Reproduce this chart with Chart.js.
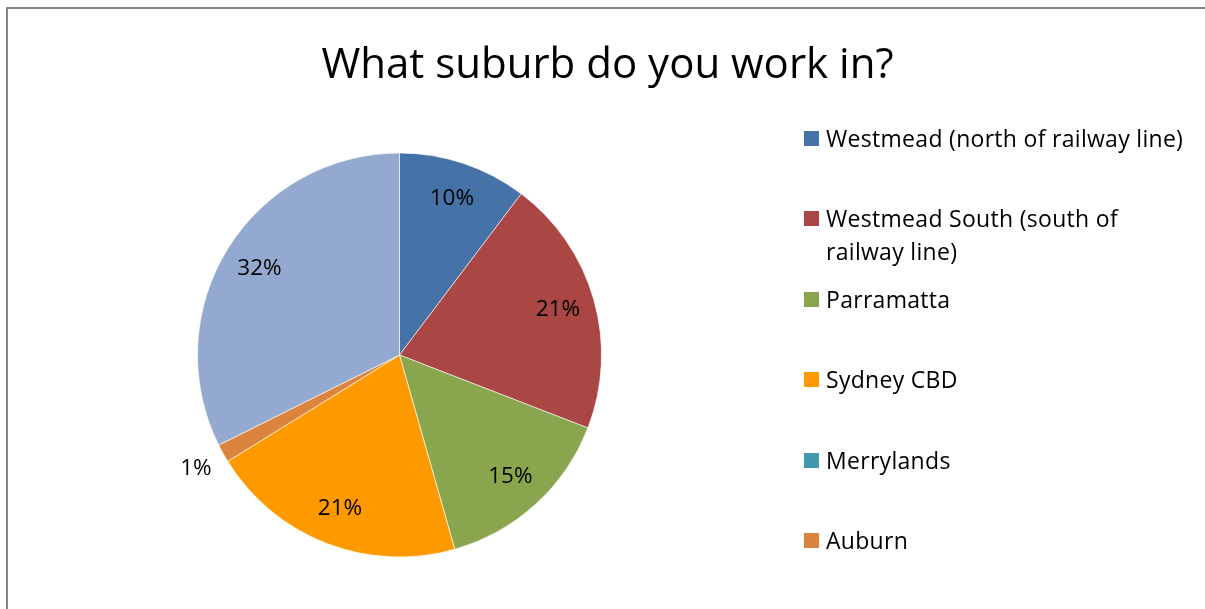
<!DOCTYPE html>
<html>
<head>
<meta charset="utf-8">
<script src="https://cdn.jsdelivr.net/npm/chart.js@4.4.1/dist/chart.umd.min.js"></script>
<style>
  html, body { margin: 0; padding: 0; background: #fff; }
  body { width: 1205px; height: 609px; position: relative; overflow: hidden; font-family: "Open Sans", Lato, sans-serif; }
  #frame { position: absolute; left: 6px; top: 7px; width: 1300px; height: 700px; border-left: 2px solid #868686; border-top: 2px solid #868686; }
  #wrap { position: absolute; left: 0; top: 0; width: 1205px; height: 609px; }
  #title { position: absolute; left: 0; width: 1215px; top: 36px; text-align: center; font-size: 42px; line-height: 52px; color: #000; white-space: nowrap; }
  #legend { position: absolute; left: 804px; top: 121.5px; }
  .item { position: relative; height: 80.5px; }
  .sw { position: absolute; left: 0; top: 9px; width: 15px; height: 15px; }
  .txt { position: absolute; left: 22px; top: 0; font-size: 23px; letter-spacing: 0.3px; line-height: 33px; color: #000; width: 390px; white-space: nowrap; }
</style>
</head>
<body>
<div id="frame"></div>
<div id="wrap"><canvas id="c" width="1205" height="609"></canvas></div>
<div id="title"></div>
<div id="legend"></div>
<script>
const chartTitle = "What suburb do you work in?";
const categories = [
  "Westmead (north of railway line)",
  "Westmead South (south of railway line)",
  "Parramatta",
  "Sydney CBD",
  "Merrylands",
  "Auburn",
  "Other"
];
const responses = [7, 14, 10, 14, 0, 1, 22];
const sliceColors = ["#4572A7", "#AA4643", "#89A54E", "#FF9900", "#4198AF", "#DB843D", "#93A9CF"];
const legendCount = 6;
const legendLines = [
  ["Westmead (north of railway line)"],
  ["Westmead South (south of", "railway line)"],
  ["Parramatta"],
  ["Sydney CBD"],
  ["Merrylands"],
  ["Auburn"]
];

document.getElementById('title').textContent = chartTitle;

const legendEl = document.getElementById('legend');
for (let i = 0; i < legendCount; i++) {
  const item = document.createElement('div');
  item.className = 'item';
  const sw = document.createElement('div');
  sw.className = 'sw';
  sw.style.background = sliceColors[i];
  const t = document.createElement('div');
  t.className = 'txt';
  t.innerHTML = legendLines[i].map(s => s.replace(/&/g,'&amp;').replace(/</g,'&lt;')).join('<br>');
  item.appendChild(sw);
  item.appendChild(t);
  legendEl.appendChild(item);
}

const pctLabels = {
  id: 'pctLabels',
  afterDatasetsDraw(chart) {
    const ctx = chart.ctx;
    const meta = chart.getDatasetMeta(0);
    const data = chart.data.datasets[0].data;
    const total = data.reduce((a, b) => a + b, 0);
    ctx.save();
    ctx.font = '22.5px "Open Sans", Lato, sans-serif';
    ctx.fillStyle = '#000';
    ctx.textAlign = 'center';
    ctx.textBaseline = 'middle';
    meta.data.forEach((arc, i) => {
      const v = data[i];
      if (!v) return;
      const p = arc.getProps(['x', 'y', 'startAngle', 'endAngle', 'outerRadius'], true);
      const pct = v / total * 100;
      const mid = (p.startAngle + p.endAngle) / 2;
      const r = pct < 3 ? p.outerRadius + 31 : p.outerRadius * 0.815;
      const x = p.x + Math.cos(mid) * r;
      const y = p.y + Math.sin(mid) * r;
      ctx.fillText(Math.round(pct) + '%', x, y);
    });
    ctx.restore();
  }
};

new Chart(document.getElementById('c'), {
  type: 'pie',
  data: {
    labels: categories,
    datasets: [{
      data: responses,
      backgroundColor: sliceColors,
      borderColor: 'rgba(255,255,255,0.6)',
      borderWidth: 1,
      hoverOffset: 0
    }]
  },
  options: {
    responsive: false,
    animation: false,
    layout: { padding: { left: 197, right: 603, top: 152, bottom: 51 } },
    plugins: {
      legend: { display: false },
      title: { display: false },
      tooltip: { enabled: false }
    }
  },
  plugins: [pctLabels]
});
</script>
</body>
</html>
